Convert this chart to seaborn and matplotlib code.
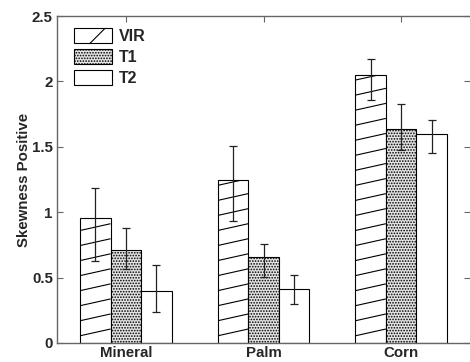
import matplotlib
matplotlib.use("Agg")
import matplotlib.pyplot as plt
from matplotlib.patches import Patch
import numpy as np
import pandas as pd
import seaborn as sns

# Oil types and treatments
categories = ["Mineral", "Palm", "Corn"]
series = ["VIR", "T1", "T2"]

# Mean positive skewness per treatment
vir = [0.956, 1.244, 2.047]
t1 = [0.711, 0.657, 1.638]
t2 = [0.395, 0.413, 1.595]

# Lower / upper error lengths
vir_minus = [0.329, 0.314, 0.189]
vir_plus = [0.229, 0.262, 0.122]
t1_minus = [0.148, 0.152, 0.162]
t1_plus = [0.170, 0.097, 0.187]
t2_minus = [0.160, 0.113, 0.142]
t2_plus = [0.204, 0.104, 0.108]

yticks = [0, 0.5, 1, 1.5, 2, 2.5]
ytick_labels = ["0", "0.5", "1", "1.5", "2", "2.5"]

sns.set_style("white")
plt.rcParams["font.family"] = ["Liberation Sans", "DejaVu Sans"]
plt.rcParams["hatch.linewidth"] = 0.8

df = pd.DataFrame({
    "oil": categories * 3,
    "sample": [s for s in series for _ in categories],
    "skew": vir + t1 + t2,
})
minus = [vir_minus, t1_minus, t2_minus]
plus = [vir_plus, t1_plus, t2_plus]

fig = plt.figure(figsize=(4.7, 3.62), dpi=100)
ax = fig.add_axes([57 / 470, 19 / 362, 413 / 470, 327 / 362])

sns.barplot(data=df, x="oil", y="skew", hue="sample", order=categories,
            hue_order=series, palette=["white"] * 3, edgecolor="black",
            linewidth=0.8, width=0.666, errorbar=None, legend=False,
            saturation=1, ax=ax)

line_gap = 0.115   # vertical spacing of the diagonal fill lines
line_rise = 0.052  # rise of each fill line across one bar
stipple_face = "#e4e4e4"
stipple = "......"

bar_groups = list(ax.containers)
for i, cont in enumerate(bar_groups):
    xs, ys = [], []
    for patch in cont.patches:
        x0, w, h = patch.get_x(), patch.get_width(), patch.get_height()
        xs.append(x0 + w / 2)
        ys.append(h)
        if i == 0:
            for k in range(-1, int(h / line_gap) + 2):
                yl = 0.055 + k * line_gap
                ln, = ax.plot([x0, x0 + w], [yl, yl + line_rise],
                              color="black", lw=0.8, solid_capstyle="butt")
                ln.set_clip_path(patch)
        elif i == 1:
            patch.set_facecolor(stipple_face)
            patch.set_hatch(stipple)
    ax.errorbar(xs, ys, yerr=[minus[i], plus[i]], fmt="none",
                ecolor="#222222", elinewidth=0.9, capsize=3, capthick=0.9,
                zorder=5)

ax.set_xlim(-0.5, 2.5)
ax.set_ylim(0, 2.5)
ax.set_yticks(yticks)
ax.set_yticklabels(ytick_labels, fontsize=10.8, fontweight="bold")
ax.set_xticks(range(len(categories)))
ax.set_xticklabels(categories, fontsize=10.8, fontweight="bold")
ax.set_xlabel("")
ax.set_ylabel("Skewness Positive", fontsize=10.8, fontweight="bold",
              labelpad=1)

for side in ["left", "top", "bottom"]:
    ax.spines[side].set_color("#666666")
    ax.spines[side].set_linewidth(1.0)
ax.spines["right"].set_visible(False)
ax.tick_params(direction="in", length=4, width=0.8, color="#666666",
               top=True, right=True, left=True, bottom=True)
ax.tick_params(axis="x", pad=2)
ax.tick_params(axis="y", pad=3)

handles = [
    Patch(facecolor="white", edgecolor="black", hatch="/", lw=0.8),
    Patch(facecolor=stipple_face, edgecolor="black", hatch=stipple, lw=0.8),
    Patch(facecolor="white", edgecolor="black", lw=0.8),
]
ax.legend(handles, series, loc="upper left",
          bbox_to_anchor=(74 / 470, 1 - 28.5 / 362),
          bbox_transform=fig.transFigure, frameon=False, borderpad=0,
          borderaxespad=0, handlelength=2.4, handleheight=1.0,
          handletextpad=0.4, labelspacing=0.33,
          prop={"size": 11.5, "weight": "bold"})

fig.savefig("out.png", dpi=100)
